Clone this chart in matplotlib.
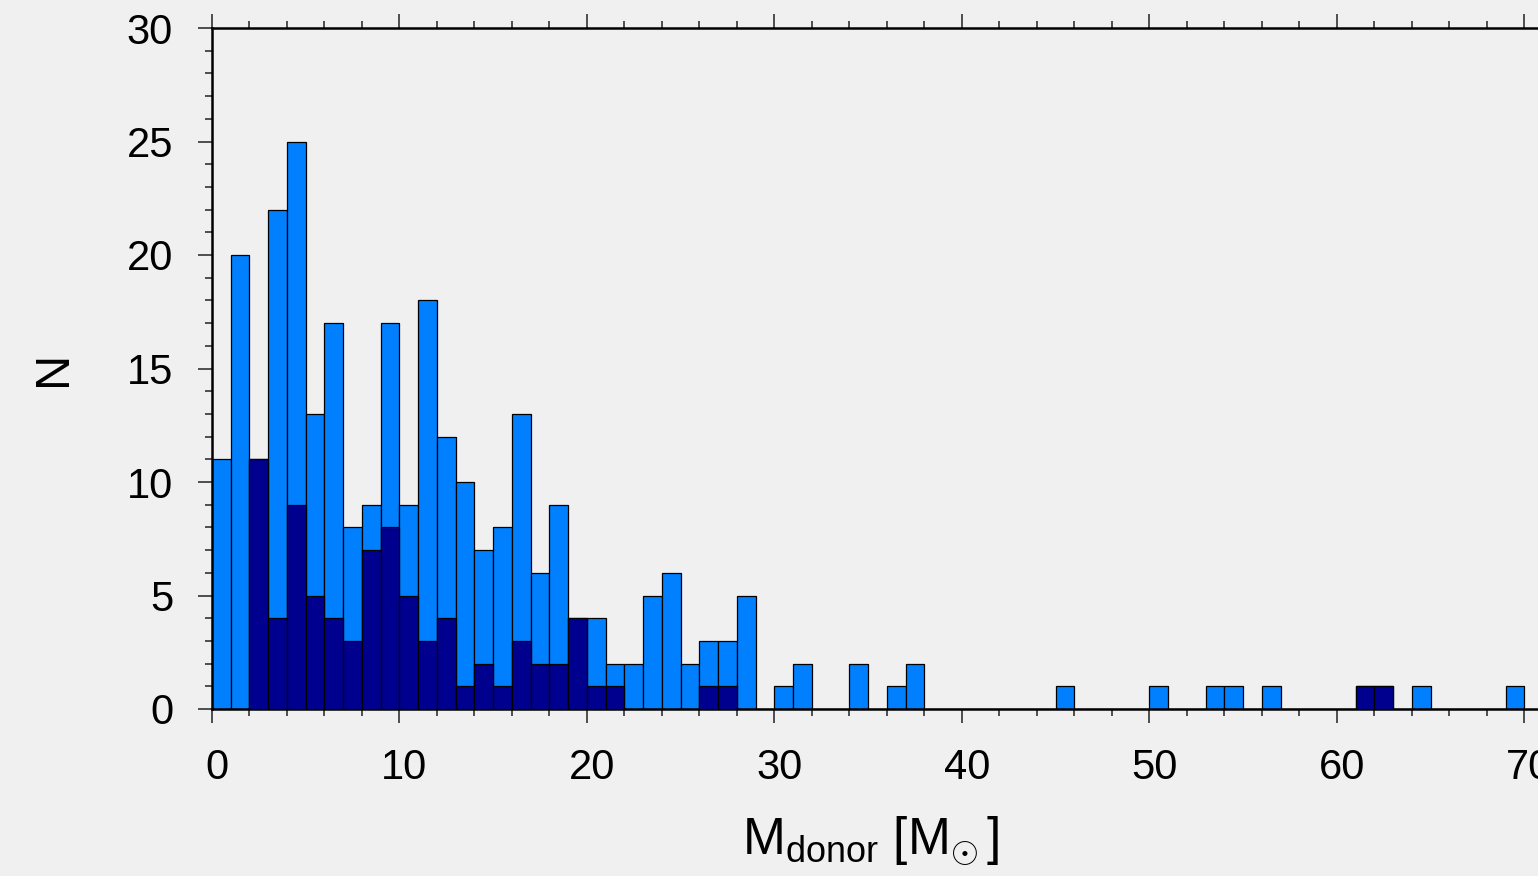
import matplotlib
matplotlib.use('Agg')
import matplotlib.pyplot as plt
import matplotlib.transforms as mtransforms
from matplotlib.ticker import MultipleLocator
import numpy as np

# Histogram counts, bins of width 1 Msun from 0 to 70
bin_edges = np.arange(0, 71, 1)
n_all = [11, 20, 11, 22, 25, 13, 17, 8, 9, 17,
         9, 18, 12, 10, 7, 8, 13, 6, 9, 4,
         4, 2, 2, 5, 6, 2, 3, 3, 5, 0,
         1, 2, 0, 0, 2, 0, 1, 2, 0, 0,
         0, 0, 0, 0, 0, 1, 0, 0, 0, 0,
         1, 0, 0, 1, 1, 0, 1, 0, 0, 0,
         0, 1, 1, 0, 1, 0, 0, 0, 0, 1]
n_sub = [0, 0, 11, 4, 9, 5, 4, 3, 7, 8,
         5, 3, 4, 1, 2, 1, 3, 2, 2, 4,
         1, 1, 0, 0, 0, 0, 1, 1, 0, 0,
         0, 0, 0, 0, 0, 0, 0, 0, 0, 0,
         0, 0, 0, 0, 0, 0, 0, 0, 0, 0,
         0, 0, 0, 0, 0, 0, 0, 0, 0, 0,
         0, 1, 1, 0, 0, 0, 0, 0, 0, 0]

plt.rcParams['font.family'] = ['Liberation Sans', 'DejaVu Sans']
plt.rcParams['mathtext.fontset'] = 'custom'
plt.rcParams['mathtext.rm'] = 'Liberation Sans'
plt.rcParams['mathtext.it'] = 'Liberation Sans'

fig = plt.figure(figsize=(15.38, 8.76), dpi=100)
fig.patch.set_facecolor('#f1f0f0')

# axes runs past the right edge of the picture, like the original
ax = fig.add_axes([212 / 1538, 167 / 876, 1406 / 1538, 681 / 876])
ax.set_facecolor('none')

left = bin_edges[:-1]
ax.bar(left, n_all, width=1, align='edge', color='#0080ff',
       edgecolor='black', linewidth=0.9, zorder=2)
mask = np.array(n_sub) > 0
ax.bar(left[mask], np.array(n_sub)[mask], width=1, align='edge', color='#00008f',
       edgecolor='black', linewidth=0.9, zorder=3)

ax.set_xlim(0, 75)
ax.set_ylim(0, 30)

ax.xaxis.set_major_locator(MultipleLocator(10))
ax.xaxis.set_minor_locator(MultipleLocator(2))
ax.yaxis.set_major_locator(MultipleLocator(5))
ax.yaxis.set_minor_locator(MultipleLocator(1))

ax.tick_params(which='both', direction='out', top=True, right=False,
               labeltop=False, color='#333333', width=1.2)
ax.tick_params(which='major', length=10, labelsize=30, pad=18)
ax.tick_params(which='minor', length=5)

for side in ['left', 'bottom', 'top']:
    ax.spines[side].set_linewidth(1.8)
ax.spines['right'].set_visible(False)

# tick labels sit a little right of their ticks in the original
shift = mtransforms.ScaledTranslation(5 / 100, 0, fig.dpi_scale_trans)
for lab in ax.get_xticklabels():
    lab.set_transform(lab.get_transform() + shift)

ax.set_xlabel(r'M$_{\mathrm{donor}}$ [M$_{\odot}\,$]', fontsize=37)
ax.xaxis.set_label_coords((871 - 212) / 1406, -0.155)
ax.xaxis.label.set_va('top')
ax.set_ylabel('N', fontsize=35)
ax.yaxis.set_label_coords((76 - 212) / 1406, 0.5)

plt.savefig('out.png', dpi=100, facecolor=fig.get_facecolor())
